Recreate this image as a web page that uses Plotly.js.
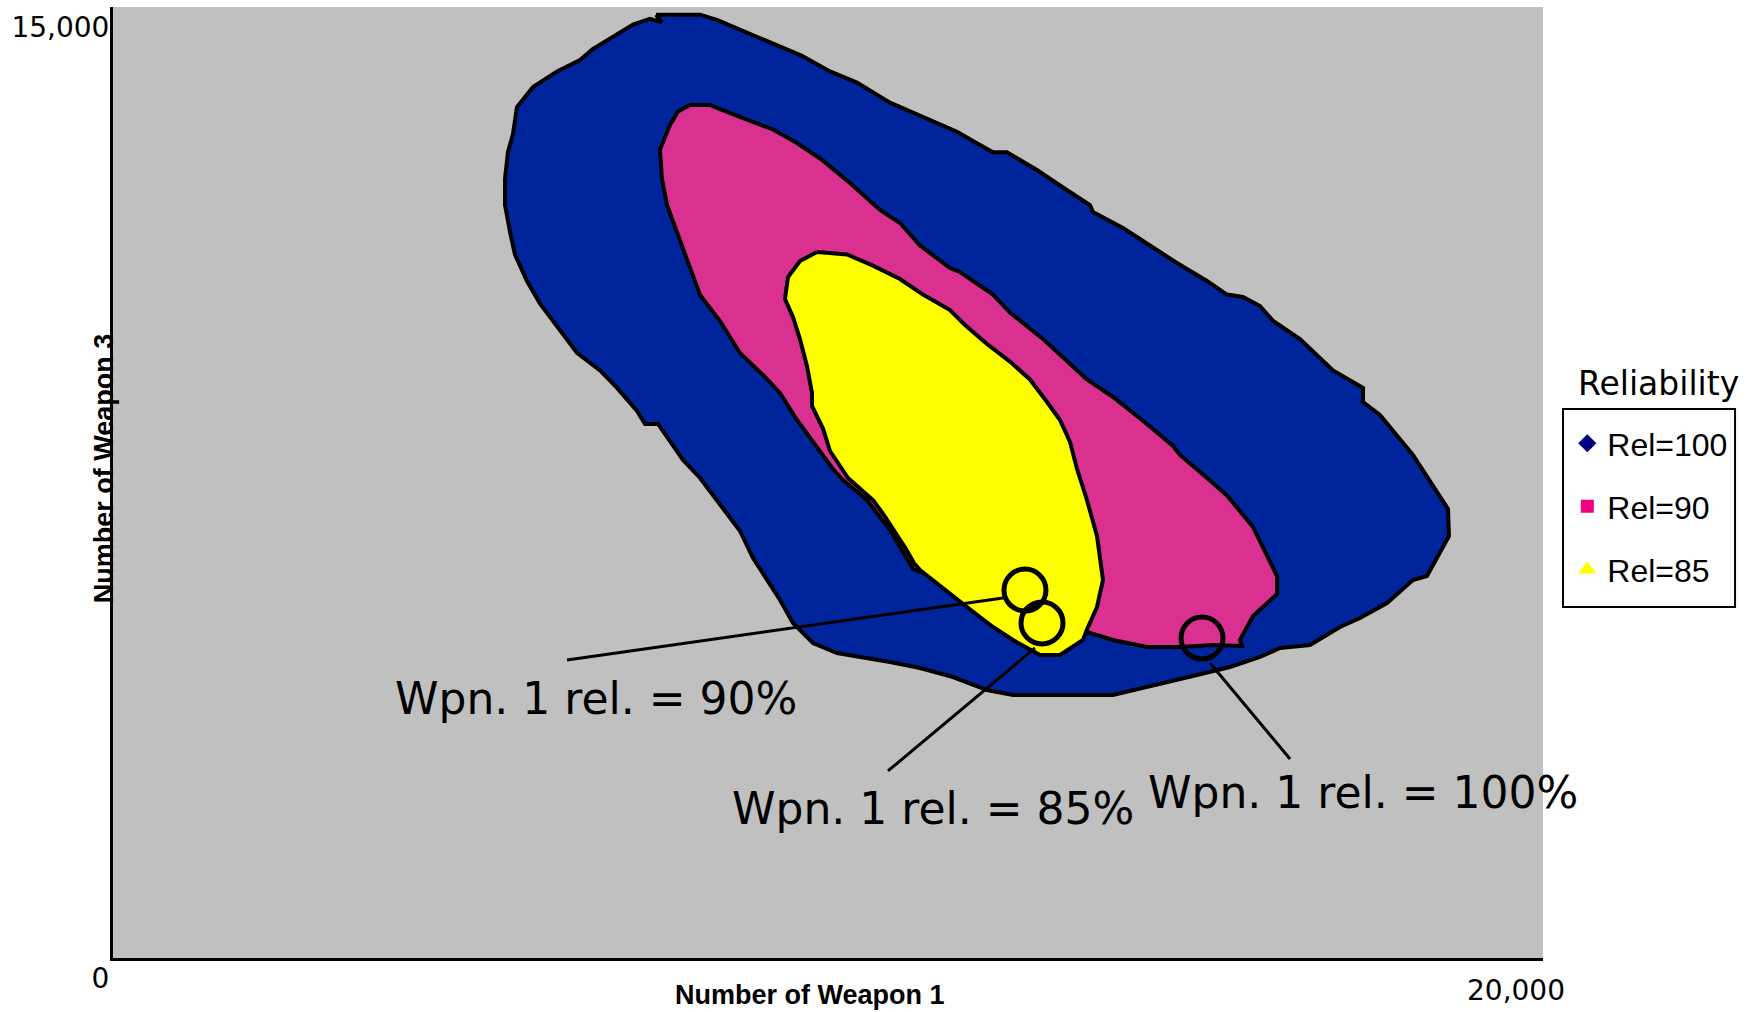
<!DOCTYPE html>
<html><head><meta charset="utf-8">
<script src="https://cdn.plot.ly/plotly-3.0.1.min.js"></script>
<style>html,body{margin:0;padding:0;background:#fff}#chart{width:1751px;height:1012px}</style>
</head><body><div id="chart"></div>
<script>
// Region outlines (Number of Weapon 1, Number of Weapon 3)
const blueX = [7594, 8210, 8447, 8811, 9231, 9636, 10028, 10405, 10867, 11287, 11804, 12126, 12308, 12503, 12923, 13287, 13664, 13706, 14126, 14503, 14881, 15301, 15580, 15804, 16042, 16226, 16601, 17063, 17483, 17483, 17720, 18181, 18461, 18671, 18685, 18531, 18377, 18181, 18041, 17818, 17441, 17161, 16741, 16322, 16042, 15622, 15161, 14685, 14266, 13986, 12587, 12224, 11748, 11287, 10867, 10448, 10126, 9790, 9510, 9329, 9231, 8951, 8769, 8490, 8210, 7972, 7622, 7441, 7329, 7049, 6811, 6489, 6210, 5972, 5790, 5622, 5553, 5483, 5483, 5524, 5594, 5650, 5874, 6210, 6531, 6713, 6811, 7133, 7273, 7510, 7678];
const blueY = [14879, 14879, 14795, 14622, 14407, 14230, 13984, 13807, 13491, 13281, 13033, 12823, 12710, 12710, 12429, 12153, 11877, 11766, 11514, 11238, 10962, 10679, 10464, 10426, 10284, 10047, 9763, 9267, 8991, 8769, 8565, 7934, 7435, 7082, 6656, 6341, 6025, 5962, 5820, 5599, 5363, 5221, 4937, 4890, 4748, 4590, 4464, 4338, 4227, 4148, 4148, 4227, 4432, 4574, 4669, 4748, 4811, 4968, 5284, 5647, 5820, 6309, 6735, 7153, 7571, 7855, 8423, 8423, 8628, 8991, 9267, 9547, 9969, 10322, 10678, 11096, 11451, 11877, 12293, 12713, 12997, 13423, 13738, 13984, 14164, 14338, 14407, 14622, 14723, 14815, 14760];

const pinkX = [8070, 8350, 8811, 9231, 9566, 9930, 10308, 10727, 11007, 11287, 11706, 11846, 12308, 12545, 13007, 13342, 13622, 13986, 14461, 14825, 14923, 15301, 15580, 15944, 16280, 16280, 16084, 15944, 15762, 15790, 15385, 14923, 14461, 13986, 13664, 12405, 11189, 11077, 10867, 10545, 10210, 10070, 9888, 9566, 9329, 9091, 8769, 8490, 8210, 8070, 7930, 7748, 7678, 7650, 7790, 7902];
const pinkY = [13454, 13454, 13247, 13068, 12855, 12576, 12224, 11798, 11593, 11238, 10883, 10820, 10464, 10181, 9763, 9407, 9125, 8849, 8423, 8076, 7934, 7571, 7295, 6798, 6025, 5741, 5536, 5394, 5016, 4921, 4937, 4905, 4905, 5016, 5126, 5568, 6136, 6341, 6751, 7224, 7539, 7713, 7997, 8486, 8912, 9196, 9543, 10047, 10458, 10883, 11309, 11877, 12287, 12752, 13139, 13350];

const yellowX = [9846, 10266, 10629, 11007, 11329, 11706, 11916, 12224, 12545, 12825, 13063, 13245, 13385, 13483, 13622, 13762, 13846, 13804, 13762, 13622, 13566, 13245, 12965, 12587, 12308, 11944, 11524, 11287, 11203, 11091, 10783, 10629, 10280, 10028, 9930, 9776, 9776, 9706, 9608, 9510, 9398, 9441, 9608];
const yellowY = [11136, 11096, 10921, 10710, 10464, 10221, 9984, 9685, 9407, 9125, 8770, 8486, 8139, 7713, 7224, 6656, 5962, 5757, 5536, 5181, 5016, 4779, 4779, 5016, 5221, 5536, 5915, 6120, 6230, 6451, 6987, 7224, 7571, 7997, 8350, 8707, 8912, 9338, 9763, 10110, 10394, 10741, 10994];

// Marked points (circles) and their leader lines
const circleX = [12755, 12993, 15231];
const circleY = [5804, 5284, 5047];
const leader90X = [6350, 12447];
const leader90Y = [4700, 5678];
const leader85X = [12895, 10839];
const leader85Y = [4890, 2950];
const leader100X = [15343, 16462];
const leader100Y = [4653, 3139];
const pointLabels = ['Wpn. 1 rel. = 90%', 'Wpn. 1 rel. = 85%', 'Wpn. 1 rel. = 100%'];

// Legend series and ticks
const seriesNames = ['Rel=100', 'Rel=90', 'Rel=85'];
const legendTitle = 'Reliability';
const xTickVals = [20000];
const xTickText = ['20,000'];
const yTickVals = [0, 15000];
const yTickText = ['0', '15,000'];
const xTitle = 'Number of Weapon 1';
const yTitle = 'Number of Weapon 3';

const outline = {color: '#000000', width: 4};
function closed(a) { return a.concat([a[0]]); }
function region(x, y, color) {
  return {type: 'scatter', x: closed(x), y: closed(y), mode: 'lines', fill: 'toself', fillcolor: color,
          line: outline, showlegend: false, hoverinfo: 'skip'};
}
function leader(x, y) {
  return {type: 'scatter', x: x, y: y, mode: 'lines', line: {color: '#000', width: 3},
          showlegend: false, hoverinfo: 'skip'};
}
function legendOnly(name, symbol, color, size, grp) {
  return {type: 'scatter', x: [null], y: [null], mode: 'markers', name: name, legendgroup: grp,
          marker: {symbol: symbol, color: color, size: size}};
}

const traces = [
  region(blueX, blueY, '#00249C'),
  region(pinkX, pinkY, '#DA3190'),
  region(yellowX, yellowY, '#FFFF00'),
  leader(leader90X, leader90Y),
  leader(leader85X, leader85Y),
  leader(leader100X, leader100Y),
  {type: 'scatter', x: circleX, y: circleY, mode: 'markers', showlegend: false, hoverinfo: 'skip',
   marker: {symbol: 'circle-open', size: 42, color: '#000', line: {width: 5}}},
  legendOnly(seriesNames[0], 'diamond', '#000080', 14, 'a'),
  legendOnly(seriesNames[1], 'square', '#F0007F', 13, 'b'),
  legendOnly(seriesNames[2], 'triangle-up', '#FFFF00', 16, 'c')
];

const labelFont = {family: 'DejaVu Sans', size: 44, color: '#000'};
const layout = {
  width: 1751, height: 1012,
  margin: {l: 113, r: 208, t: 7, b: 54, pad: 0},
  paper_bgcolor: '#ffffff', plot_bgcolor: '#C0C0C0',
  xaxis: {range: [0, 20000], tickvals: xTickVals, ticktext: xTickText, showgrid: false, zeroline: false,
          showline: true, linecolor: '#000', linewidth: 3, ticks: '', ticklabelshift: -27, ticklabelstandoff: 5,
          tickfont: {family: 'DejaVu Sans', size: 28, color: '#000'}, fixedrange: true},
  yaxis: {range: [0, 15000], tickvals: yTickVals, ticktext: yTickText, showgrid: false, zeroline: false,
          showline: true, linecolor: '#000', linewidth: 3, ticks: '', ticklabelshift: 20, ticklabelstandoff: -5,
          tickfont: {family: 'DejaVu Sans', size: 28, color: '#000'}, fixedrange: true},
  showlegend: true,
  legend: {x: 1.017, y: 0.570, xanchor: 'left', yanchor: 'top', borderwidth: 0,
           bgcolor: 'rgba(0,0,0,0)', traceorder: 'grouped', tracegroupgap: 18.5,
           font: {family: 'Liberation Sans, Arial', size: 32, color: '#000'}},
  shapes: [
    {type: 'rect', xref: 'paper', yref: 'paper', x0: 1.014, x1: 1.1343, y0: 0.3691, y1: 0.5773,
     line: {color: '#000', width: 2}, fillcolor: 'rgba(0,0,0,0)', layer: 'above'}
  ],
  annotations: [
    {x: 6755, y: 4101, xref: 'x', yref: 'y', text: pointLabels[0], showarrow: false, xanchor: 'center', yanchor: 'middle', font: labelFont},
    {x: 11469, y: 2366, xref: 'x', yref: 'y', text: pointLabels[1], showarrow: false, xanchor: 'center', yanchor: 'middle', font: labelFont},
    {x: 17483, y: 2603, xref: 'x', yref: 'y', text: pointLabels[2], showarrow: false, xanchor: 'center', yanchor: 'middle', font: labelFont},
    {x: 1.0811, y: 0.6046, xref: 'paper', yref: 'paper', text: legendTitle, showarrow: false, xanchor: 'center', yanchor: 'middle',
     font: {family: 'DejaVu Sans', size: 33, color: '#000'}},
    {x: 0.4874, y: -0.0389, xref: 'paper', yref: 'paper', text: '<b>' + xTitle + '</b>', showarrow: false, xanchor: 'center', yanchor: 'middle',
     font: {family: 'Liberation Sans, Arial', size: 27, color: '#000'}},
    {x: -0.0063, y: 0.515, xref: 'paper', yref: 'paper', text: '<b>' + yTitle + '</b>', showarrow: false, textangle: -90, xanchor: 'center', yanchor: 'middle',
     font: {family: 'Liberation Sans, Arial', size: 27, color: '#000'}}
  ]
};

Plotly.newPlot('chart', traces, layout, {displayModeBar: false, staticPlot: true});
</script></body></html>
